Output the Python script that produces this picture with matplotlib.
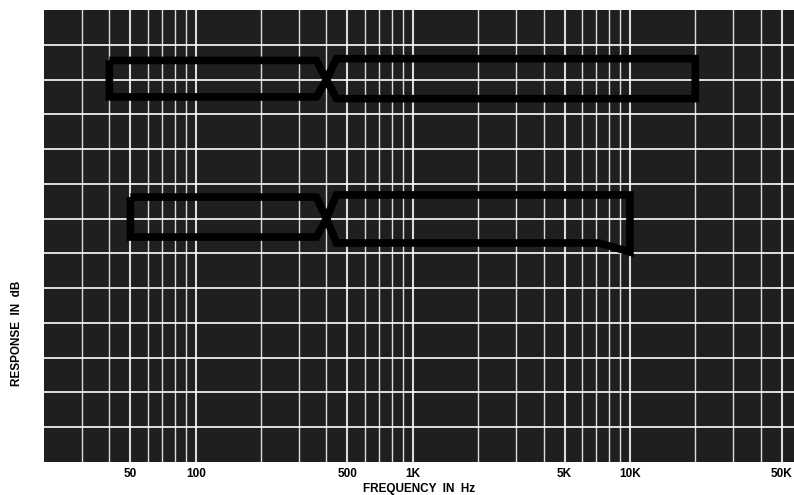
import matplotlib
matplotlib.use("Agg")
import matplotlib.pyplot as plt
import numpy as np

# x tick labels on the log frequency axis
tick_freqs = [50, 100, 500, 1000, 5000, 10000, 50000]
tick_labels = ["50", "100", "500", "1K", "5K", "10K", "50K"]

# chart paper grid
grid_freqs = ([30, 40, 50, 60, 70, 80, 90] +
              [100, 200, 300, 400, 500, 600, 700, 800, 900] +
              [1000, 2000, 3000, 4000, 5000, 6000, 7000, 8000, 9000] +
              [10000, 20000, 30000, 40000, 50000])
heavy_freqs = [50, 100, 500, 1000, 5000, 10000, 50000]
grid_levels = [1, 2, 3, 4, 5, 6, 7, 8, 9, 10, 11, 12]

# upper tolerance window (pinched at 400 Hz)
upper_f = [40, 360, 400, 445, 20000]
upper_hi = [11.55, 11.55, 11.0, 11.6, 11.6]
upper_lo = [10.5, 10.5, 11.0, 10.45, 10.45]

# lower tolerance window (pinched at 400 Hz, rolls off near 10 kHz)
lower_f = [50, 360, 400, 445, 7200, 10000]
lower_hi = [7.62, 7.62, 7.0, 7.68, 7.68, 7.68]
lower_lo = [6.47, 6.47, 7.0, 6.3, 6.3, 6.04]


def window(ax, f, hi, lo):
    xs = list(f) + list(f[::-1]) + [f[0]]
    ys = list(hi) + list(lo[::-1]) + [hi[0]]
    ax.plot(xs, ys, color="black", lw=5.5, solid_joinstyle="miter",
            solid_capstyle="butt", zorder=5)


def main():
    fig = plt.figure(figsize=(7.94, 4.95), dpi=100)
    ax = fig.add_axes([44 / 794, 33 / 495, 750 / 794, 452 / 495])
    ax.set_facecolor("#1f1f1f")
    ax.set_xscale("log")
    ax.set_xlim(20, 57000)
    ax.set_ylim(0, 13)

    for f in grid_freqs:
        lw = 1.5 if f in heavy_freqs else 1.0
        ax.axvline(f, color="white", lw=lw, alpha=0.85, zorder=2)
    for y in grid_levels:
        ax.axhline(y, color="white", lw=1.4, alpha=0.85, zorder=2)

    window(ax, upper_f, upper_hi, upper_lo)
    window(ax, lower_f, lower_hi, lower_lo)

    for s in ax.spines.values():
        s.set_visible(False)
    ax.set_yticks([])
    ax.xaxis.set_minor_locator(matplotlib.ticker.NullLocator())
    ax.set_xticks(tick_freqs)
    ax.set_xticklabels(tick_labels, fontfamily="Liberation Sans",
                       fontweight="bold", fontsize=8.5)
    ax.tick_params(axis="x", length=0, pad=4)

    fig.text(419 / 794, 1 - 489 / 495, "FREQUENCY  IN  Hz", ha="center",
             va="center", fontfamily="Liberation Sans", fontweight="bold",
             fontsize=8.5)
    fig.text(17 / 794, 1 - 333 / 495, "RESPONSE  IN  dB", ha="center",
             va="center", rotation=90, fontfamily="Liberation Sans",
             fontweight="bold", fontsize=8.5)

    fig.savefig("out.png", dpi=100)


if __name__ == '__main__':
    main()
